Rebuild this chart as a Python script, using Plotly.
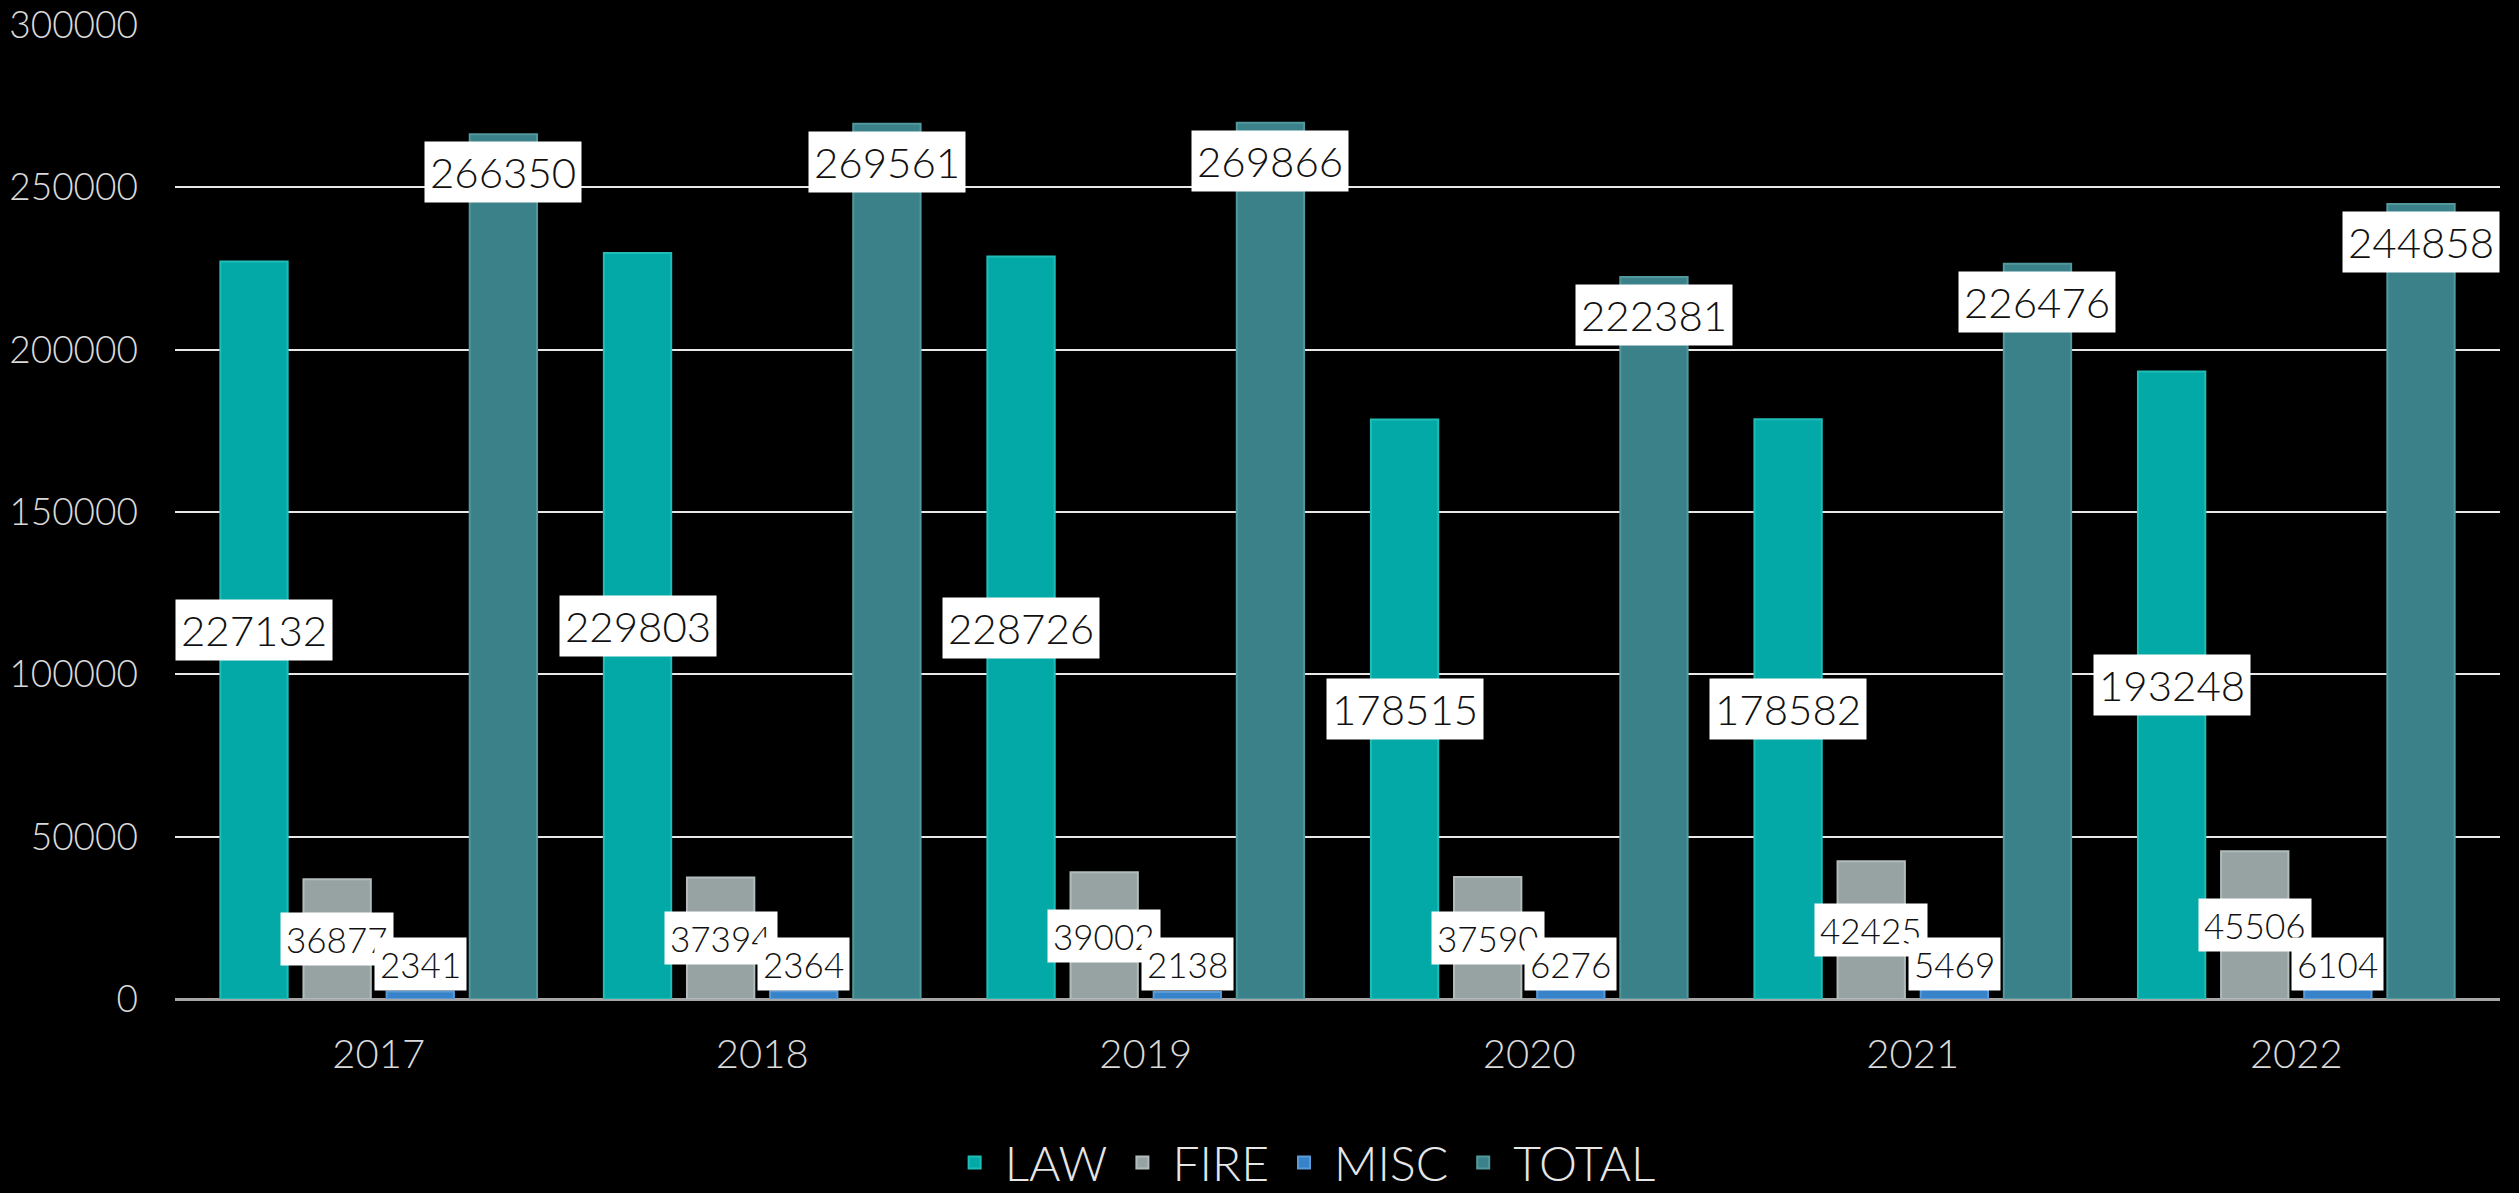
import plotly.graph_objects as go

# Calls for service by year and department
years = ["2017", "2018", "2019", "2020", "2021", "2022"]
law = [227132, 229803, 228726, 178515, 178582, 193248]
fire = [36877, 37394, 39002, 37590, 42425, 45506]
misc = [2341, 2364, 2138, 6276, 5469, 6104]
total = [266350, 269561, 269866, 222381, 226476, 244858]

series_names = ["LAW", "FIRE", "MISC", "TOTAL"]
series_values = [law, fire, misc, total]
series_colors = ["#03a9a7", "#97a3a3", "#3683c9", "#3a8189"]
series_edges = ["#20bdb8", "#b3bcbc", "#5a9ad6", "#52999e"]

BARGAP = 0.133
BARGROUPGAP = 0.19
FONT = "Lato"

fig = go.Figure()
for name, vals, col, edge in zip(series_names, series_values, series_colors, series_edges):
    fig.add_trace(go.Bar(
        x=years, y=vals, name=name,
        marker=dict(color=col, line=dict(color=edge, width=2)),
        hoverinfo="x+y+name",
    ))

# White value boxes; each series places its label differently
slot = (1 - BARGAP) / len(series_names)
annotations = []
for i, yr in enumerate(years):
    for k, (name, vals) in enumerate(zip(series_names, series_values)):
        v = vals[i]
        xpos = i + (k - 1.5) * slot
        if name == "LAW":
            a = dict(y=v / 2, yanchor="middle", yshift=0, size=42)
        elif name == "FIRE":
            a = dict(y=v / 2, yanchor="middle", yshift=0, size=35)
        elif name == "MISC":
            a = dict(y=0, yanchor="bottom", yshift=8, size=35)
        else:
            a = dict(y=v, yanchor="top", yshift=-7, size=42)
        annotations.append(dict(
            x=xpos, y=a["y"], xref="x", yref="y",
            text=str(v), showarrow=False,
            xanchor="center", yanchor=a["yanchor"], yshift=a["yshift"],
            font=dict(family=FONT, size=a["size"], color="#111111", weight=300),
            bgcolor="#ffffff", borderpad=5,
        ))

fig.update_layout(
    width=2519, height=1193,
    margin=dict(l=175, r=19, t=24, b=194, autoexpand=False),
    paper_bgcolor="#000000", plot_bgcolor="#000000",
    barmode="group", bargap=BARGAP, bargroupgap=BARGROUPGAP,
    font=dict(family=FONT, color="#d9d9d9"),
    annotations=annotations,
    showlegend=True,
    legend=dict(
        orientation="h", x=0.485, xanchor="center", y=-0.168, yanchor="middle",
        font=dict(family=FONT, size=48, color="#e6e6e6", weight=300),
        itemsizing="constant", itemwidth=50, bgcolor="rgba(0,0,0,0)",
        traceorder="normal",
    ),
    xaxis=dict(
        type="category", showgrid=False, zeroline=False,
        showline=False, ticks="",
        tickfont=dict(family=FONT, size=40, color="#d9d9d9", weight=300),
        ticklabelstandoff=28,
    ),
    yaxis=dict(
        range=[0, 300300], tickvals=[0, 50000, 100000, 150000, 200000, 250000, 300000],
        tickformat="d",
        showgrid=True, gridcolor="#e8e8e8", gridwidth=2,
        zeroline=True, zerolinecolor="#a6a6a6", zerolinewidth=3,
        showline=False, ticks="",
        tickfont=dict(family=FONT, size=37, color="#d9d9d9", weight=300),
        ticklabelstandoff=36,
    ),
)

fig.write_html("out.html")
